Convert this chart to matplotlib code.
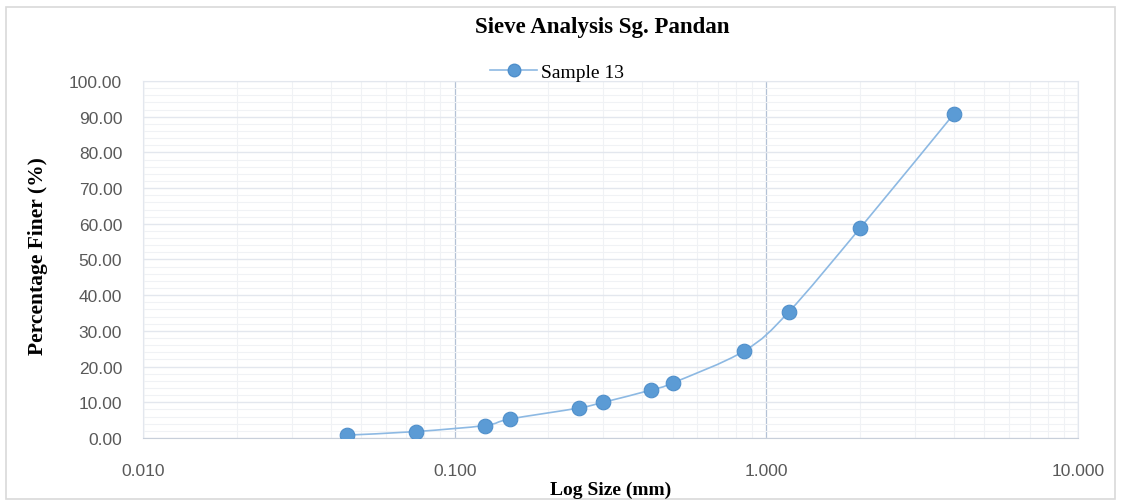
import numpy as np
import matplotlib.pyplot as plt
from matplotlib.path import Path
from matplotlib.patches import PathPatch, Rectangle
from matplotlib.lines import Line2D
from matplotlib.ticker import FixedLocator, NullFormatter

# Sieve data
sieve_size = [0.045, 0.075, 0.125, 0.150, 0.250, 0.300, 0.425, 0.500, 0.850, 1.180, 2.000, 4.000]
pct_finer = [0.8, 1.8, 3.5, 5.3, 8.4, 10.0, 13.4, 15.4, 24.4, 35.3, 58.8, 90.8]
series_name = "Sample 13"
x_ticks = [0.01, 0.1, 1, 10]
x_ticklabels = ['0.010', '0.100', '1.000', '10.000']

plt.rcParams['font.family'] = ['Liberation Serif', 'DejaVu Serif']

fig = plt.figure(figsize=(11.21, 5.02), dpi=100)
fig.patches.append(Rectangle((0.005, 0.004), 0.99, 0.98, transform=fig.transFigure,
                             fill=False, edgecolor='#D9D9D9', linewidth=1.2))
ax = fig.add_axes([0.1276, 0.1255, 0.8340, 0.7112])

ax.set_xscale('log')
ax.set_xlim(0.01, 10)
ax.set_ylim(0, 100)

# grid
ax.set_yticks(np.arange(0, 101, 10))
ax.yaxis.set_minor_locator(FixedLocator(np.arange(0, 101, 2)))
ax.xaxis.set_major_locator(FixedLocator(x_ticks))
minor = [m * d for d in (0.01, 0.1, 1) for m in range(2, 10)]
ax.xaxis.set_minor_locator(FixedLocator(minor))
ax.xaxis.set_minor_formatter(NullFormatter())
ax.grid(True, which='minor', color='#F0F2F5', linewidth=0.8)
ax.grid(True, which='major', axis='y', color='#E3E7EE', linewidth=1.0)
ax.grid(True, which='major', axis='x', color='#B4C2D6', linewidth=0.9)
ax.set_axisbelow(True)
ax.set_xticklabels(x_ticklabels)
ax.set_yticklabels([f'{v:.2f}' for v in np.arange(0, 101, 10)])
ax.tick_params(which='both', length=0, labelsize=12.5, colors='#595959')
for lab in ax.get_xticklabels() + ax.get_yticklabels():
    lab.set_family(['Liberation Sans', 'DejaVu Sans'])
ax.tick_params(axis='x', pad=18)
ax.tick_params(axis='y', pad=15)
for s in ax.spines.values():
    s.set_color('#E3E7EE')
ax.spines['bottom'].set_color('#C8CFDA')

# smooth curve (Catmull-Rom style Bezier in log-x space)
lx = np.log10(sieve_size)
yy = np.array(pct_finer, dtype=float)
verts = [(lx[0], yy[0])]
codes = [Path.MOVETO]
n = len(lx)
for i in range(n - 1):
    p0 = (lx[max(i - 1, 0)], yy[max(i - 1, 0)])
    p1 = (lx[i], yy[i])
    p2 = (lx[i + 1], yy[i + 1])
    p3 = (lx[min(i + 2, n - 1)], yy[min(i + 2, n - 1)])
    c1 = (p1[0] + (p2[0] - p0[0]) / 6, p1[1] + (p2[1] - p0[1]) / 6)
    c2 = (p2[0] - (p3[0] - p1[0]) / 6, p2[1] - (p3[1] - p1[1]) / 6)
    verts += [c1, c2, p2]
    codes += [Path.CURVE4] * 3
verts = [(10 ** vx, vy) for vx, vy in verts]
ax.add_patch(PathPatch(Path(verts, codes), fill=False, edgecolor='#8DB9E3',
                       linewidth=1.2, zorder=3))
ax.plot(sieve_size, pct_finer, linestyle='none', marker='o', markersize=10.5,
        markerfacecolor='#5B9BD5', markeredgecolor='#4F8FCB', markeredgewidth=0.8,
        zorder=4)

handle = Line2D([], [], color='#8DB9E3', linewidth=1.2, marker='o', markersize=9,
                markerfacecolor='#5B9BD5', markeredgecolor='#4F8FCB')
ax.legend([handle], [series_name], loc='center', bbox_to_anchor=(0.443, 1.025),
          frameon=False, handlelength=2.4, handletextpad=0.2, borderpad=0.1,
          prop={'family': ['Liberation Serif', 'DejaVu Serif'], 'size': 14})

fig.text(0.537, 0.945, 'Sieve Analysis Sg. Pandan', ha='center', va='center',
         fontsize=16.5, fontweight='bold')
fig.text(0.545, 0.024, 'Log Size (mm)', ha='center', va='center',
         fontsize=14, fontweight='bold')
fig.text(0.034, 0.49, 'Percentage Finer (%)', ha='center', va='center',
         rotation=90, fontsize=15.5, fontweight='bold')

fig.savefig('out.png', dpi=100)
